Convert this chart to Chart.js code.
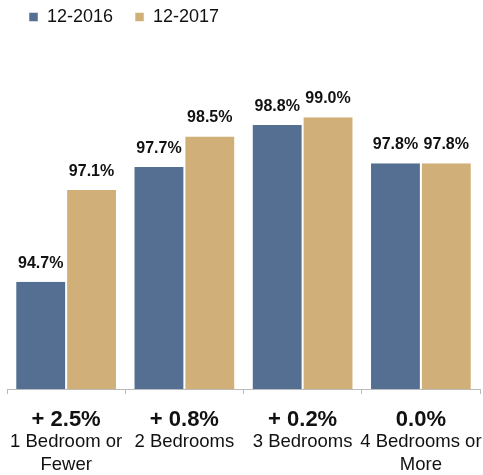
<!DOCTYPE html>
<html><head><meta charset="utf-8">
<script src="https://cdn.jsdelivr.net/npm/chart.js@4/dist/chart.umd.min.js"></script>
<style>html,body{margin:0;padding:0;background:#fff}#wrap{width:483px;height:475px}</style>
</head><body><div id="wrap"><canvas id="c"></canvas></div>
<script>
const categories = [["1 Bedroom or","Fewer"],"2 Bedrooms","3 Bedrooms",["4 Bedrooms or","More"]];
const changes = ["+ 2.5%","+ 0.8%","+ 0.2%","0.0%"];
const series2016 = [94.7, 97.7, 98.8, 97.8];
const series2017 = [97.1, 98.5, 99.0, 97.8];
const seriesNames = ["12-2016","12-2017"];
const FONT = "'Liberation Sans', Arial, Helvetica, sans-serif";

const valueLabels = {
  id: 'valueLabels',
  afterDatasetsDraw(chart) {
    const ctx = chart.ctx;
    ctx.save();
    ctx.font = "bold 16px " + FONT;
    ctx.fillStyle = "#111";
    ctx.textAlign = "center";
    ctx.textBaseline = "alphabetic";
    chart.data.datasets.forEach((ds, i) => {
      chart.getDatasetMeta(i).data.forEach((el, j) => {
        ctx.fillText(ds.data[j].toFixed(1) + "%", el.x, el.y - 14);
      });
    });
    ctx.restore();
  }
};

const changeLabels = {
  id: 'changeLabels',
  afterDraw(chart) {
    const sx = chart.scales.x;
    const ctx = chart.ctx;
    ctx.save();
    ctx.font = "bold 22px " + FONT;
    ctx.fillStyle = "#111";
    ctx.textAlign = "center";
    ctx.textBaseline = "middle";
    changes.forEach((t, i) => {
      ctx.fillText(t, sx.getPixelForTick(i), sx.top + 31);
    });
    ctx.restore();
  }
};

const legendSpace = {
  id: 'legendSpace',
  beforeInit(chart) {
    const lg = chart.legend;
    const origFit = lg.fit;
    lg.fit = function () {
      origFit.call(this);
      this.height = 93;
    };
  }
};

new Chart(document.getElementById('c'), {
  type: 'bar',
  data: {
    labels: categories,
    datasets: [
      { label: seriesNames[0], data: series2016, backgroundColor: '#546F91', borderColor: '#ffffff', borderWidth: {left:1,right:1,top:0,bottom:0} },
      { label: seriesNames[1], data: series2017, backgroundColor: '#D0B078', borderColor: '#ffffff', borderWidth: {left:1,right:1,top:0,bottom:0} }
    ]
  },
  options: {
    responsive: true,
    maintainAspectRatio: false,
    animation: false,
    devicePixelRatio: 1,
    layout: { padding: { left: 7, right: 3, top: -14, bottom: 0 } },
    datasets: { bar: { categoryPercentage: 0.86, barPercentage: 1.0 } },
    plugins: {
      legend: {
        position: 'top', align: 'start',
        labels: { boxWidth: 9, boxHeight: 9, padding: 22, color: '#111', font: { family: FONT, size: 18 } }
      },
      tooltip: { enabled: false }
    },
    scales: {
      y: { display: false, min: 91.9, max: 100 },
      x: {
        type: 'category', position: 'bottom', offset: true,
        border: { display: true, color: '#bbb' },
        grid: { display: true, offset: true, drawOnChartArea: false, tickLength: 5, color: '#bbb' },
        ticks: { color: '#111', font: { family: FONT, size: 18.5, lineHeight: 1.243 }, maxRotation: 0, autoSkip: false, padding: 36.5 },
        afterFit(s) { s.height = 86; s.paddingLeft = 0; s.paddingRight = 0; }
      }
    }
  },
  plugins: [valueLabels, changeLabels, legendSpace]
});
</script></body></html>
